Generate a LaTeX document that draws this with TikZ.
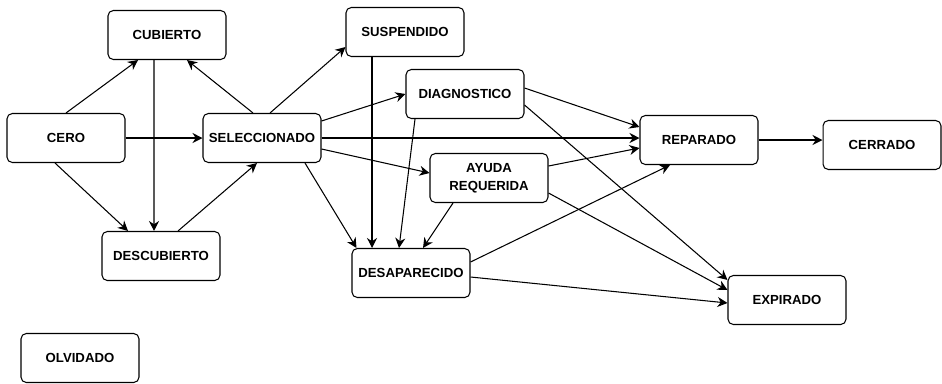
\documentclass[tikz,border=0pt]{standalone}
\usepackage{fontspec}
\setmainfont{Liberation Sans}
\usetikzlibrary{arrows.meta, calc, positioning}

\begin{document}
\begin{tikzpicture}[x=0.02cm, y=-0.02cm,
        every node/.style={draw, rounded corners=3pt, line width=0.6pt, minimum width=2.36cm, minimum height=0.98cm,
            align=center, font=\fontsize{7.5}{9}\selectfont\bfseries},
        edge/.style={line width=0.6pt, -{Stealth[length=2mm, width=2mm]}}]
        \useasboundingbox (0,0) rectangle (942,383);
        % estados
        \node (cubierto) at (167,35) {CUBIERTO};
        \node (cero) at (66,138) {CERO};
        \node (sel) at (262,138) {SELECCIONADO};
        \node (descubierto) at (161,256) {DESCUBIERTO};
        \node (olvidado) at (80,358) {OLVIDADO};
        \node (susp) at (405,32) {SUSPENDIDO};
        \node (diag) at (465,94) {DIAGNOSTICO};
        \node (ayuda) at (489,178) {AYUDA\\[1pt]REQUERIDA};
        \node (desap) at (411,273) {DESAPARECIDO};
        \node (rep) at (699,140) {REPARADO};
        \node (cerrado) at (882,145) {CERRADO};
        \node (expirado) at (787,300) {EXPIRADO};
        % transiciones
        \draw[edge] (cero.north) -- ([xshift=-0.58cm]cubierto.south);
        \draw[edge] (cero.east) -- (sel.west);
        \draw[edge] ([xshift=-0.22cm]cero.south) -- ([xshift=-0.66cm]descubierto.north);
        \draw[edge] ([xshift=-0.26cm]cubierto.south) -- ([xshift=-0.14cm]descubierto.north);
        \draw[edge] ([xshift=-0.18cm]sel.north) -- ([xshift=0.4cm]cubierto.south);
        \draw[edge] ([xshift=0.34cm]descubierto.north) -- ([xshift=-0.1cm]sel.south);
        \draw[edge] ([xshift=0.16cm]sel.north) -- ([yshift=0.2cm]susp.south west);
        \draw[edge] ([yshift=0.34cm]sel.east) -- (diag.west);
        \draw[edge] (sel.east) -- (sel.east -| rep.west);
        \draw[edge] ([yshift=-0.22cm]sel.east) -- ([yshift=0.1cm]ayuda.west);
        \draw[edge] ([xshift=0.86cm]sel.south) -- ([xshift=0.1cm]desap.north west);
        \draw[edge] ([xshift=-0.66cm]susp.south) coordinate (s1) -- (s1 |- desap.north);
        \draw[edge] ([xshift=-1.0cm]diag.south) -- ([xshift=-0.24cm]desap.north);
        \draw[edge] ([xshift=-0.72cm]ayuda.south) -- ([xshift=0.24cm]desap.north);
        \draw[edge] ([yshift=0.12cm]diag.east) -- ([yshift=0.26cm]rep.west);
        \draw[edge] ([yshift=-0.22cm]diag.east) -- ([yshift=-0.1cm]expirado.north west);
        \draw[edge] ([yshift=0.24cm]ayuda.east) -- ([yshift=-0.16cm]rep.west);
        \draw[edge] ([yshift=-0.3cm]ayuda.east) -- ([yshift=0.2cm]expirado.west);
        \draw[edge] ([yshift=0.22cm]desap.east) -- ([xshift=-0.58cm]rep.south);
        \draw[edge] ([yshift=-0.08cm]desap.east) -- ([yshift=-0.06cm]expirado.west);
        \draw[edge] (rep.east) -- (rep.east -| cerrado.west);
    \end{tikzpicture}
\end{document}
